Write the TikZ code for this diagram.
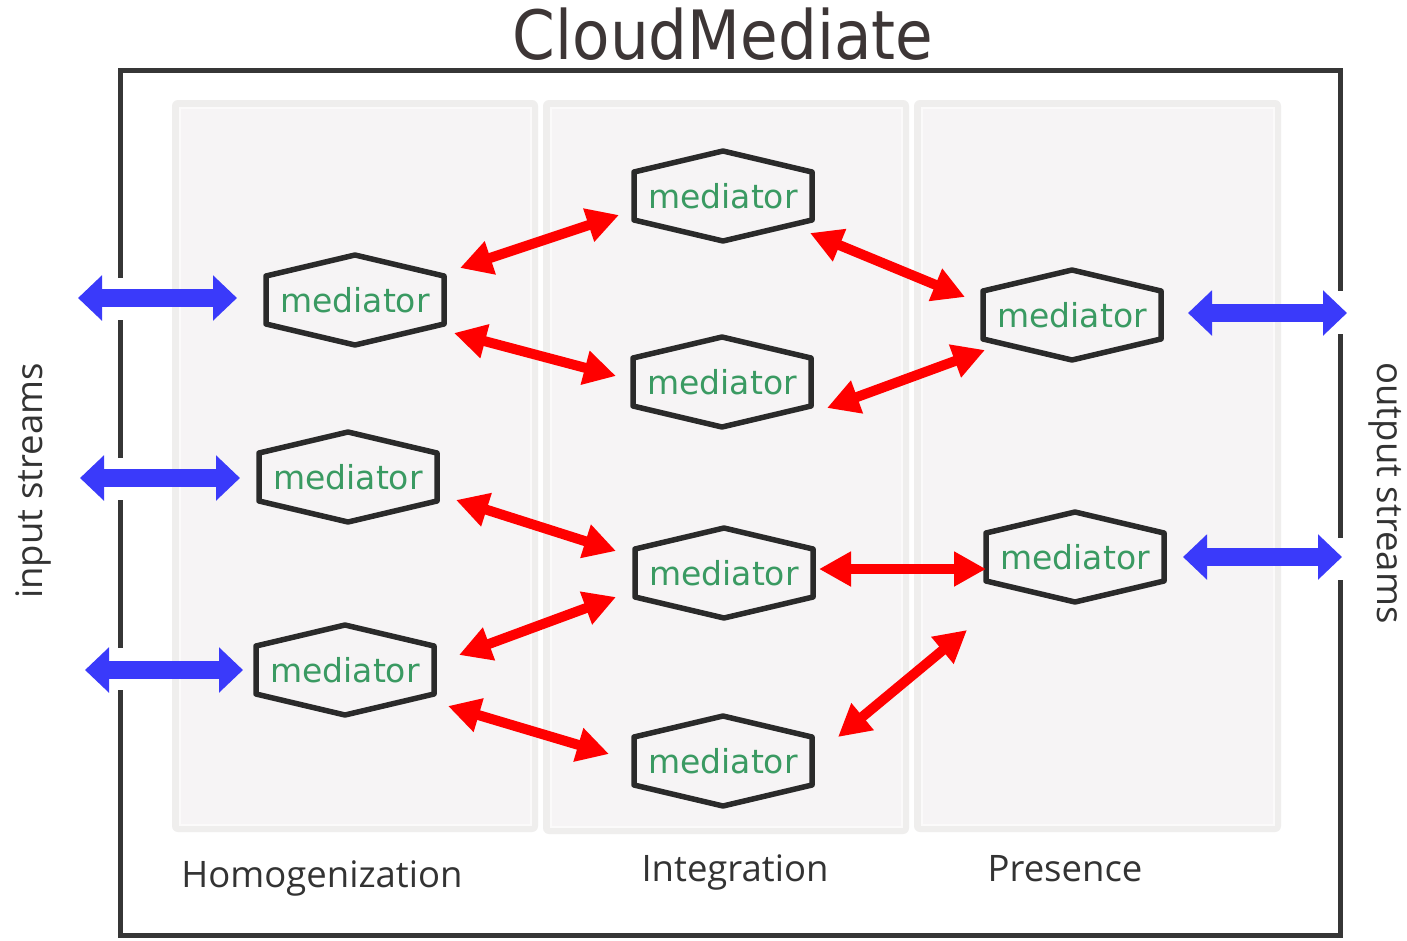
\documentclass[tikz,border=0pt]{standalone}
\usepackage{fontspec}
\usetikzlibrary{arrows.meta,calc}
\newfontfamily\dejavu{DejaVu Sans}
\newfontfamily\opensans{Open Sans}
\definecolor{medgreen}{HTML}{3A9A62}
\definecolor{hexc}{HTML}{2A2A2A}
\definecolor{framec}{HTML}{363636}
\definecolor{titlec}{HTML}{3D3636}
\definecolor{labelc}{HTML}{333333}
\definecolor{arrblue}{HTML}{3A3AFA}
\definecolor{panelout}{HTML}{EFEEED}
\definecolor{panelin}{HTML}{F6F4F5}
\definecolor{panelline}{HTML}{FBFAFA}
\tikzset{
  medtext/.style={inner sep=0pt, minimum width=178pt, minimum height=90pt,
    text=medgreen, font=\dejavu\fontsize{33}{40}\selectfont},
  hexline/.style={draw=hexc, line width=5.5pt, line join=round},
  framepath/.style={draw=framec, line width=5pt, line cap=rect},
  redarr/.style={draw=red, line width=10pt,
    {Triangle[length=32pt,width=33pt]}-{Triangle[length=32pt,width=33pt]}},
  bluearr/.style={draw=arrblue, line width=18pt,
    {Triangle[length=24pt,width=44pt]}-{Triangle[length=24pt,width=44pt]}},
  phase/.style={anchor=base, text=labelc, font=\opensans\fontsize{36.5}{42}\selectfont},
  panelbox/.style={fill=panelout, rounded corners=6pt},
  panelinner/.style={fill=panelin, draw=panelline, line width=2pt},
}
\newcommand{\medhex}[3]{%
  \node[medtext] (#1) at (#2,#3) {mediator};
  \draw[hexline] ($(#1.center)+(-89,-24)$) -- ($(#1.center)+(0,-45)$)
    -- ($(#1.center)+(89,-24)$) -- ($(#1.center)+(89,24)$)
    -- ($(#1.center)+(0,45)$) -- ($(#1.center)+(-89,24)$) -- cycle;
}
\begin{document}
\begin{tikzpicture}[x=1pt,y=-1pt]
\useasboundingbox[fill=white] (0,0) rectangle (1407,940);
% panels
\fill[panelbox] (172,100) rectangle (538,832);
\fill[panelbox] (543,100) rectangle (909,834);
\fill[panelbox] (914,100) rectangle (1281,832);
\path[panelinner] (180,108) rectangle (531,825);
\path[panelinner] (551,108) rectangle (902,827);
\path[panelinner] (922,108) rectangle (1274,825);
% frame with gaps for the streams
\draw[framepath] (120,275) -- (120,70) -- (1340,70) -- (1340,288);
\draw[framepath] (1340,336) -- (1340,535);
\draw[framepath] (1340,582) -- (1340,935) -- (120,935) -- (120,692);
\draw[framepath] (120,645) -- (120,502);
\draw[framepath] (120,455) -- (120,322);
% title and labels
\node[anchor=base, text=titlec, font=\dejavu\fontsize{68}{80}\selectfont] (title) at (723,59) {\scalebox{0.9}[1]{CloudMediate}};
\node[phase] (hom) at (322,887) {Homogenization};
\node[phase] (int) at (735,881) {Integration};
\node[phase] (pre) at (1065,881) {Presence};
\node[phase, rotate=90] (ins) at (42,481) {input streams};
\node[phase, rotate=-90] (outs) at (1377,493) {output streams};
% mediators
\medhex{A1}{355}{300}
\medhex{A2}{348}{477}
\medhex{A3}{345}{670}
\medhex{B1}{723}{196}
\medhex{B2}{722}{382}
\medhex{B3}{724}{573}
\medhex{B4}{723}{761}
\medhex{C1}{1072}{315}
\medhex{C2}{1075}{557}
% arrow end points
\coordinate (i1) at (78,298);   \coordinate (i1b) at (237,298);
\coordinate (i2) at (80,478);   \coordinate (i2b) at (240,478);
\coordinate (i3) at (85,670);   \coordinate (i3b) at (243,670);
\coordinate (o1) at (1188,313); \coordinate (o1b) at (1347,313);
\coordinate (o2) at (1183,557); \coordinate (o2b) at (1342,557);
\coordinate (r1a) at (460,268); \coordinate (r1b) at (619,215);
\coordinate (r2a) at (454,333); \coordinate (r2b) at (616,376);
\coordinate (r3a) at (810,233); \coordinate (r3b) at (965,297);
\coordinate (r4a) at (827,408); \coordinate (r4b) at (985,350);
\coordinate (r5a) at (456,500); \coordinate (r5b) at (616,551);
\coordinate (r6a) at (459,655); \coordinate (r6b) at (616,597);
\coordinate (r7a) at (448,706); \coordinate (r7b) at (609,754);
\coordinate (r8a) at (819,569); \coordinate (r8b) at (986,569);
\coordinate (r9a) at (838,737); \coordinate (r9b) at (967,630);
% blue stream arrows
\draw[bluearr] (i1) -- (i1b);
\draw[bluearr] (i2) -- (i2b);
\draw[bluearr] (i3) -- (i3b);
\draw[bluearr] (o1) -- (o1b);
\draw[bluearr] (o2) -- (o2b);
% red mediator links
\draw[redarr] (r1a) -- (r1b);
\draw[redarr] (r2a) -- (r2b);
\draw[redarr] (r3a) -- (r3b);
\draw[redarr] (r4a) -- (r4b);
\draw[redarr] (r5a) -- (r5b);
\draw[redarr] (r6a) -- (r6b);
\draw[redarr] (r7a) -- (r7b);
\draw[redarr] (r8a) -- (r8b);
\draw[redarr] (r9a) -- (r9b);
\end{tikzpicture}
\end{document}
